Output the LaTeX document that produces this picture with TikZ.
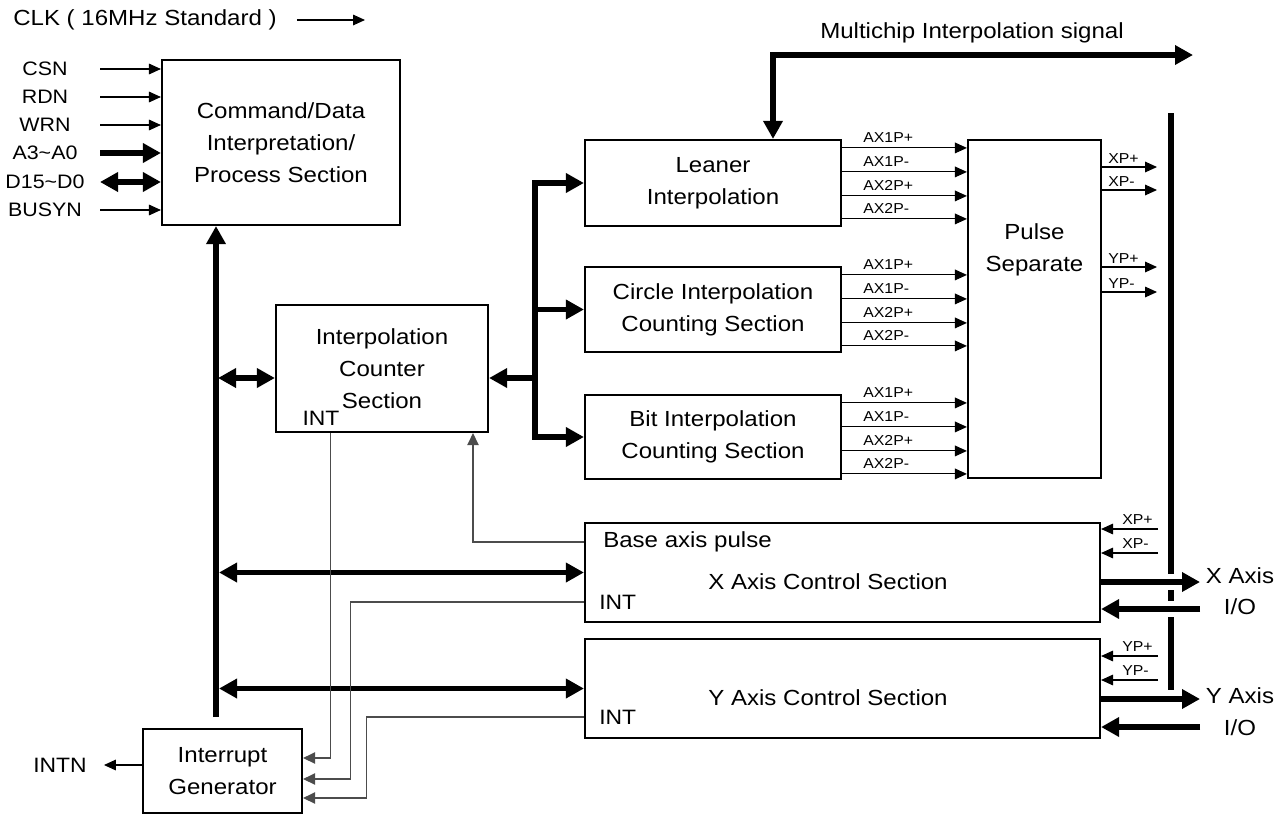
\documentclass[tikz,border=0pt]{standalone}
\usepackage{fontspec}
\setmainfont{Liberation Sans}[FakeStretch=1.1]
\usepackage{tikz}
\usetikzlibrary{arrows.meta}
\usetikzlibrary{positioning}
\usetikzlibrary{calc}

\newcommand{\bigfs}{\fontsize{16.4}{24}\selectfont}
\newcommand{\midfs}{\fontsize{14.6}{16}\selectfont}
\newcommand{\intfs}{\fontsize{15.6}{17}\selectfont}
\newcommand{\smallfs}{\fontsize{10.8}{12}\selectfont}

\begin{document}
\begin{tikzpicture}
		[x=0.75pt,y=-0.75pt,
		blk/.style={draw,line width=1.6pt,inner sep=0pt,align=center,font=\bigfs},
		sz/.style 2 args={minimum width=#1*0.75pt,minimum height=#2*0.75pt},
		txt/.style={inner sep=0pt,align=center,font=\bigfs},
		lbl/.style={inner sep=0pt,font=\smallfs},
		bus/.style={line width=3.8pt},
		tip/.style={-{Triangle[length=13.5pt,width=14pt]}},
		tips/.style={{Triangle[length=13.5pt,width=14pt]}-{Triangle[length=13.5pt,width=14pt]}},
		busar/.style={bus,tip},
		busbi/.style={bus,tips},
		sig/.style={line width=0.8pt,-{Triangle[length=9pt,width=8pt]}},
		ctl/.style={line width=0.8pt,black!70,-{Triangle[length=9pt,width=8.5pt]}},
		gap/.style={white,line width=7pt}]
		\useasboundingbox (0,0) rectangle (1287,814);

		\node[blk,sz={238}{165}] (cmd) at (281,142.5) {Command/Data\\Interpretation/\\Process Section};
		\node[blk,sz={212}{127}] (counter) at (382,368.5) {Interpolation\\Counter\\Section};
		\node[blk,sz={256}{86}] (leaner) at (713,183) {Leaner\\Interpolation};
		\node[blk,sz={256}{85}] (circle) at (713,309.5) {Circle Interpolation\\Counting Section};
		\node[blk,sz={256}{84}] (bit) at (713,437) {Bit Interpolation\\Counting Section};
		\node[blk,sz={133}{338}] (pulse) at (1034.5,309) {};
		\node[txt] (pulsetxt) at (1034.5,250) {Pulse\\Separate};
		\node[blk,sz={515}{99}] (xaxis) at (842.5,572.5) {};
		\node[blk,sz={515}{99}] (yaxis) at (842.5,688.5) {};
		\node[blk,sz={159}{84}] (intgen) at (222.5,771) {Interrupt\\Generator};

		\node[txt,anchor=west] (basep) at (603,542) {Base axis pulse};
		\node[txt] (xtitle) at (828,582) {X Axis Control Section};
		\node[txt,anchor=west,font=\intfs] (xint) at (599,602) {INT};
		\node[txt] (ytitle) at (828,698) {Y Axis Control Section};
		\node[txt,anchor=west,font=\intfs] (yint) at (599,717) {INT};
		\node[txt,font=\intfs] (cint) at (321,418) {INT};

		\node[txt,anchor=west] (clk) at (13,20) {CLK ( 16MHz Standard )};
		\coordinate (clkend) at (365,20);
		\draw[sig] ($(clk.east)+(20,0)$) -- (clkend);

		\coordinate (inx) at (100,0);
		\foreach \n/\t/\yy/\s in {csn/CSN/69/sig, rdn/RDN/97/sig, wrn/WRN/125/sig,
			adr/A3\textasciitilde A0/153/busar, dat/D15\textasciitilde D0/182/busbi, bsy/BUSYN/210/sig}
		{
			\node[txt,font=\midfs] (\n) at (45,\yy) {\t};
			\draw[\s] (\n -| inx) -- (\n -| cmd.west);
		}

		\coordinate (busbot) at (216,717);
		\draw[busar] (busbot) -- (busbot |- cmd.south);
		\draw[busbi] ($(busbot |- counter.west)+(2,9.5)$) -- ($(counter.west)+(0,9.5)$);
		\draw[busbi] ($(busbot |- xaxis.west)+(3,0)$) -- (xaxis.west);
		\draw[busbi] ($(busbot |- yaxis.west)+(3,0)$) -- (yaxis.west);

		\coordinate (jn) at (535,0);
		\draw[busbi] (leaner.west) -| (jn |- bit.west) -- (bit.west);
		\draw[busar] (jn |- circle.west) -- (circle.west);
		\draw[busar] ($(jn |- counter.east)+(0,9.5)$) -- ($(counter.east)+(0,9.5)$);

		\node[txt] (mctext) at (972,33) {Multichip Interpolation signal};
		\coordinate (mcend) at (1193,55);
		\draw[busbi] ($(leaner.north)+(60,0)$) |- (mcend);

		\foreach \b in {leaner,circle,bit}
		\foreach \o/\t [count=\i] in {9/AX1P+,33/AX1P-,57/AX2P+,80/AX2P-}
		{
			\coordinate (\b-\i) at ($(\b.north east)+(0,\o)$);
			\draw[sig] (\b-\i) -- (\b-\i -| pulse.west);
			\node[lbl,anchor=base west] (\b-l\i) at ($(\b-\i)+(21,-5)$) {\t};
		}

		\foreach \n/\t/\yy in {pxa/XP+/167, pxb/XP-/190, pya/YP+/267, pyb/YP-/292}
		{
			\coordinate (\n) at (1157,\yy);
			\draw[sig] (\n -| pulse.east) -- (\n);
			\node[lbl,anchor=base west] (\n-l) at ($(\n -| pulse.east)+(6,-4)$) {\t};
		}

		\coordinate (vtop) at (1171,113);
		\coordinate (vbot) at (1171,690);
		\draw[bus] (vtop) -- (vbot);

		\coordinate (xo) at (1200,582);
		\coordinate (xi) at (1200,609);
		\coordinate (yo) at (1200,699);
		\coordinate (yi) at (1200,727);
		\foreach \c in {xo,xi}
		\draw[gap] ($(vtop |- \c)+(0,-8)$) -- ($(vtop |- \c)+(0,8)$);
		\draw[busar] (xo -| xaxis.east) -- (xo);
		\draw[busar] (xi) -- (xi -| xaxis.east);
		\draw[busar] (yo -| yaxis.east) -- (yo);
		\draw[busar] (yi) -- (yi -| yaxis.east);
		\node[txt] (xlab) at (1240,576) {X Axis};
		\node[txt] (xio) at (1240,607) {I/O};
		\node[txt] (ylab) at (1240,696) {Y Axis};
		\node[txt] (yio) at (1240,728) {I/O};

		\foreach \n/\t/\yy in {xpa/XP+/529, xpb/XP-/553, ypa/YP+/656, ypb/YP-/680}
		{
			\coordinate (\n) at (1158,\yy);
			\draw[sig] (\n) -- (\n -| xaxis.east);
			\node[lbl,anchor=base west] (\n-l) at ($(\n -| xaxis.east)+(21,-5)$) {\t};
		}

		\draw[ctl] (basep.west -| xaxis.west) -| ($(counter.south)+(91,0)$);
		\draw[ctl] ($(counter.south west)+(56,0)$) |- ($(intgen.east)+(0,-13)$);
		\draw[ctl] (xint.west -| xaxis.west) -- ++(-233,0) |- ($(intgen.east)+(0,8)$);
		\draw[ctl] (yint.west -| yaxis.west) -- ++(-217,0) |- ($(intgen.east)+(0,27)$);

		\node[txt,font=\intfs] (intn) at (60,765) {INTN};
		\draw[sig] (intgen.west |- intn) -- ($(intn.east)+(17,0)$);
		\end{tikzpicture}
\end{document}
